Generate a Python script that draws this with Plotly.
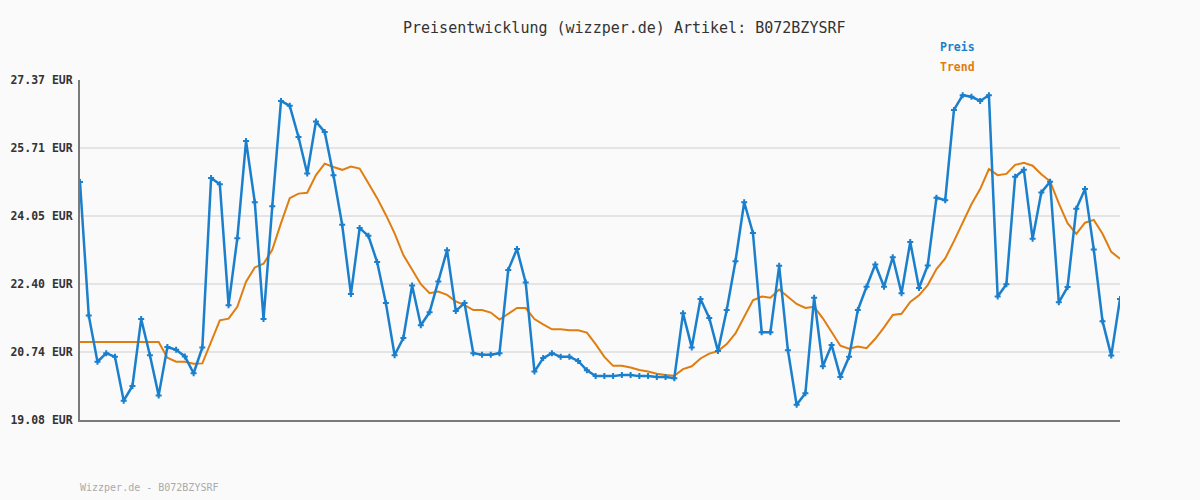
import plotly.graph_objects as go

# Price series (EUR)
preis = [24.88, 21.63, 20.50, 20.71, 20.62, 19.55, 19.91, 21.54, 20.66, 19.68,
         20.86, 20.79, 20.63, 20.22, 20.85, 24.98, 24.83, 21.88, 23.51, 25.88,
         24.39, 21.54, 24.29, 26.86, 26.74, 25.98, 25.09, 26.36, 26.10, 25.05,
         23.84, 22.15, 23.76, 23.57, 22.93, 21.93, 20.66, 21.08, 22.36, 21.39,
         21.71, 22.46, 23.22, 21.74, 21.93, 20.71, 20.67, 20.67, 20.71, 22.74,
         23.25, 22.43, 20.26, 20.59, 20.71, 20.62, 20.62, 20.52, 20.29, 20.15,
         20.15, 20.15, 20.18, 20.18, 20.15, 20.15, 20.13, 20.13, 20.10, 21.68,
         20.85, 22.03, 21.57, 20.76, 21.76, 22.95, 24.39, 23.64, 21.22, 21.22,
         22.84, 20.78, 19.45, 19.73, 22.06, 20.39, 20.91, 20.13, 20.62, 21.76,
         22.33, 22.87, 22.33, 23.05, 22.17, 23.42, 22.30, 22.85, 24.50, 24.44,
         26.64, 27.00, 26.96, 26.86, 27.00, 22.09, 22.39, 25.01, 25.18, 23.50,
         24.63, 24.89, 21.95, 22.32, 24.23, 24.71, 23.24, 21.49, 20.65, 22.03]

# Trend series (EUR)
trend = [20.98, 20.98, 20.98, 20.98, 20.98, 20.98, 20.98, 20.98, 20.98, 20.98,
         20.60, 20.50, 20.50, 20.45, 20.46, 20.99, 21.51, 21.55, 21.84, 22.45,
         22.80, 22.89, 23.23, 23.88, 24.49, 24.60, 24.62, 25.05, 25.33, 25.25,
         25.18, 25.26, 25.21, 24.85, 24.49, 24.08, 23.63, 23.10, 22.74, 22.39,
         22.17, 22.21, 22.13, 21.97, 21.88, 21.76, 21.76, 21.70, 21.53, 21.68,
         21.81, 21.81, 21.54, 21.41, 21.29, 21.29, 21.27, 21.27, 21.21, 20.93,
         20.62, 20.40, 20.40, 20.36, 20.30, 20.26, 20.21, 20.18, 20.16, 20.32,
         20.39, 20.58, 20.70, 20.76, 20.93, 21.19, 21.60, 22.00, 22.09, 22.06,
         22.26, 22.09, 21.91, 21.81, 21.84, 21.56, 21.23, 20.89, 20.82, 20.87,
         20.83, 21.06, 21.34, 21.64, 21.67, 21.96, 22.12, 22.37, 22.76, 23.02,
         23.44, 23.88, 24.34, 24.71, 25.20, 25.05, 25.08, 25.30, 25.35, 25.28,
         25.07, 24.90, 24.36, 23.88, 23.62, 23.89, 23.96, 23.62, 23.18, 23.01]

y_ticks = [19.08, 20.74, 22.40, 24.05, 25.71, 27.37]
y_tick_labels = ["19.08 EUR", "20.74 EUR", "22.40 EUR", "24.05 EUR", "25.71 EUR", "27.37 EUR"]

title_text = "Preisentwicklung (wizzper.de) Artikel: B072BZYSRF"
footer_text = "Wizzper.de - B072BZYSRF"

BLUE = "#1a7fcc"
ORANGE = "#e07d10"
MONO = "DejaVu Sans Mono"

x = list(range(len(preis)))

fig = go.Figure()
fig.add_trace(go.Scatter(x=x, y=trend, mode="lines", name="Trend",
                         line=dict(color=ORANGE, width=2)))
fig.add_trace(go.Scatter(x=x, y=preis, mode="lines+markers", name="Preis",
                         line=dict(color=BLUE, width=2.5),
                         marker=dict(symbol="cross", size=5, color=BLUE)))

W, H = 1200, 500
L, R, T, B = 80, 80, 80, 80
pw, ph = W - L - R, H - T - B


def px_to_paper(px, py):
    return (px - L) / pw, (H - B - py) / ph


def ann(text, px, py, size, color, xanchor="center"):
    ax, ay = px_to_paper(px, py)
    return dict(text=text, x=ax, y=ay, xref="paper", yref="paper", showarrow=False,
                xanchor=xanchor, yanchor="middle",
                font=dict(family=MONO, size=size, color=color))


fig.update_layout(
    width=W, height=H,
    margin=dict(l=L, r=R, t=T, b=B, autoexpand=False),
    paper_bgcolor="#fafafa", plot_bgcolor="#fafafa",
    showlegend=False,
    font=dict(family=MONO, color="#333333"),
    xaxis=dict(range=[0, len(preis) - 1], showgrid=False, zeroline=False,
               showticklabels=False, ticks="", automargin=False,
               showline=True, linecolor="#7a7a7a", linewidth=2),
    yaxis=dict(range=[y_ticks[0], y_ticks[-1]], tickvals=y_ticks, ticktext=y_tick_labels,
               showgrid=True, gridcolor="#e4e4e4", gridwidth=2, zeroline=False,
               showline=True, linecolor="#7a7a7a", linewidth=2, ticks="",
               ticklabelstandoff=3, automargin=False,
               tickfont=dict(family=MONO, size=11.5, color="#333333", weight="bold")),
    annotations=[
        ann(title_text, 624, 28, 15, "#333333"),
        ann("<b>Preis</b>", 977, 47, 11.5, BLUE, "right"),
        ann("<b>Trend</b>", 977, 67, 11.5, ORANGE, "right"),
        ann(footer_text, 78, 487, 10, "#aaaaaa", "left"),
    ],
)

fig.write_html("out.html")
